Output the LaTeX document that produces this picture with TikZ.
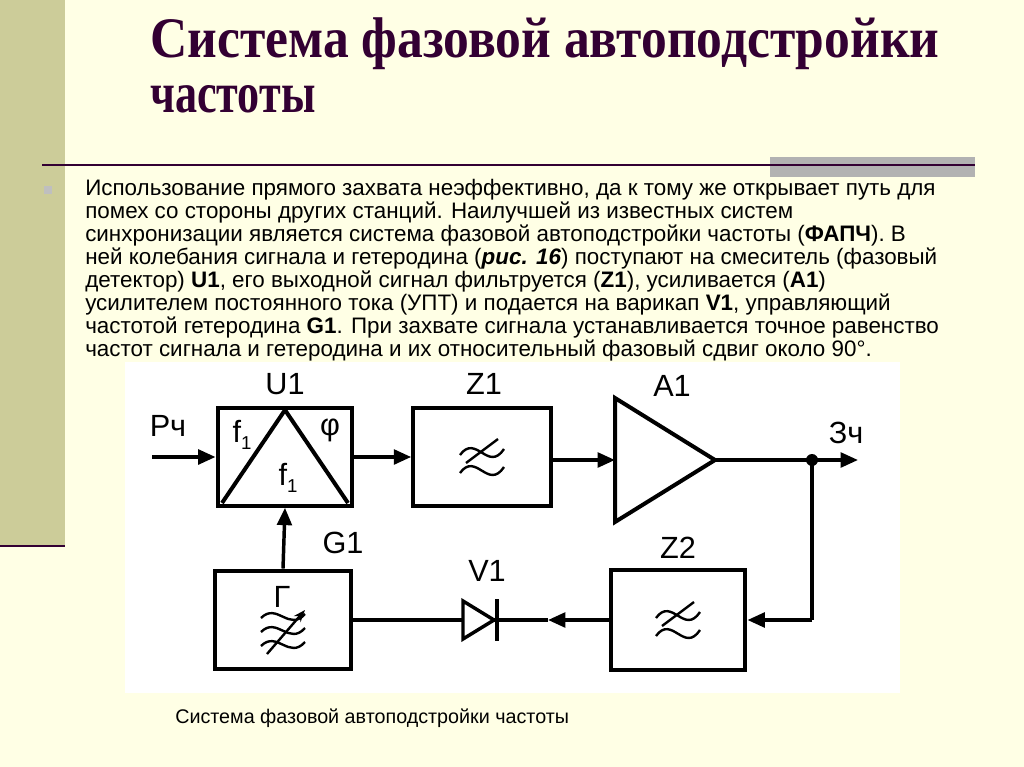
\documentclass[tikz,border=0pt]{standalone}
\usepackage{fontspec}
\usepackage{graphicx}
\setmainfont{Liberation Sans}
\newfontfamily\titlefont{Liberation Serif}
\usetikzlibrary{arrows.meta}
\definecolor{bgc}{RGB}{255,255,229}
\definecolor{barc}{RGB}{204,204,153}
\definecolor{ttl}{RGB}{51,0,51}
\tikzset{
 blk/.style={draw,line width=3.2pt,inner sep=0pt},
 wire/.style={line width=2.6pt},
 arr/.style={wire,-{Triangle[length=13pt,width=11pt]}},
 lbl/.style={font=\fontsize{23pt}{23pt}\selectfont},
 sym/.style={line width=1.8pt},
 txt/.style={anchor=west,inner sep=0pt,font=\fontsize{16.8pt}{18pt}\selectfont},
}
\newcommand\fsub{f\raisebox{-5pt}{\fontsize{14pt}{14pt}\selectfont 1}}
\begin{document}
\begin{tikzpicture}[x=0.75pt,y=-0.75pt]
\useasboundingbox (0,0) rectangle (1024,767);
\fill[bgc] (0,0) rectangle (1024,767);
\fill[barc] (0,0) rectangle (65,545);
\draw[ttl,line width=2pt] (0,546) -- (65,546);
\fill[black!30] (770,157) rectangle (975,177);
\draw[ttl,line width=2pt] (42,165) -- (975,165);
% title
\node[anchor=base west,inner sep=0pt,text=ttl] (t1) at (150,57) {\resizebox{592pt}{\height}{\titlefont\bfseries\fontsize{43pt}{43pt}\selectfont Система фазовой автоподстройки}};
\node[anchor=base west,inner sep=0pt,text=ttl] (t2) at (150,113) {\resizebox{124pt}{\height}{\titlefont\bfseries\fontsize{43pt}{43pt}\selectfont частоты}};
% paragraph
\fill[black!25] (44,186) rectangle (52,194);
\node[txt] (p1) at (85,190) {Использование прямого захвата неэффективно, да к тому же открывает путь для};
\node[txt] (p2) at (85,213) {помех со стороны других станций. Наилучшей из известных систем};
\node[txt] (p3) at (85,236) {синхронизации является система фазовой автоподстройки частоты (\textbf{ФАПЧ}). В};
\node[txt] (p4) at (85,259) {ней колебания сигнала и гетеродина (\textbf{\itshape рис. 16}) поступают на смеситель (фазовый};
\node[txt] (p5) at (85,282) {детектор) \textbf{U1}, его выходной сигнал фильтруется (\textbf{Z1}), усиливается (\textbf{A1})};
\node[txt] (p6) at (85,305) {усилителем постоянного тока (УПТ) и подается на варикап \textbf{V1}, управляющий};
\node[txt] (p7) at (85,328) {частотой гетеродина \textbf{G1}. При захвате сигнала устанавливается точное равенство};
\node[txt] (p8) at (85,351) {частот сигнала и гетеродина и их относительный фазовый сдвиг около 90°.};
% diagram area
\fill[white] (125,362) rectangle (900,693);
\node[anchor=west,inner sep=0pt,font=\fontsize{14.8pt}{15pt}\selectfont] (cap) at (175,718) {Система фазовой автоподстройки частоты};
% blocks
\node[blk,minimum width=101pt,minimum height=73pt] (U1) at (285,457) {};
\node[blk,minimum width=103pt,minimum height=73pt] (Z1) at (482,457) {};
\node[blk,minimum width=101pt,minimum height=75pt] (Z2) at (678,620) {};
\node[blk,minimum width=102pt,minimum height=74pt] (G1) at (283,620) {};
\draw[line width=3pt,line join=miter] (222,503) -- (285,410) -- (348,503);
\node[lbl] (f1a) at (242,435) {\fsub};
\node[lbl] (f1b) at (288,478) {\fsub};
\node[lbl] (phi) at (330,430) {φ};
% amplifier
\draw[line width=3pt,line join=miter] (615,398) -- (715,460) -- (615,522) -- cycle;
\coordinate (Ain) at (615,460);
\coordinate (Aout) at (715,460);
% labels
\node[lbl] (lU1) at (285,384) {U1};
\node[lbl] (lZ1) at (484,384) {Z1};
\node[lbl] (lA1) at (672,386) {A1};
\node[lbl] (lZ2) at (678,548) {Z2};
\node[lbl] (lG1) at (343,543) {G1};
\node[lbl] (lV1) at (487,571) {V1};
\node[lbl] (lin) at (168,426) {Рч};
\node[lbl] (lout) at (846,433) {Зч};
% filter symbols
\foreach \c in {Z1,Z2}{
 \draw[sym] ([shift={(-22,-2)}]\c.center) .. controls ([shift={(-6,-24)}]\c.center) and ([shift={(6,16)}]\c.center) .. ([shift={(22,-8)}]\c.center);
 \draw[sym] ([shift={(-22,16)}]\c.center) .. controls ([shift={(-6,-6)}]\c.center) and ([shift={(6,34)}]\c.center) .. ([shift={(22,10)}]\c.center);
 \draw[sym] ([shift={(16,-18)}]\c.center) -- ([shift={(-16,6)}]\c.center);
}
% generator symbol
\node[lbl] (gam) at (282,597) {Г};
\foreach \dy in {0,14,28}{
 \draw[sym] ([shift={(-22,\dy-2)}]G1.center) .. controls ([shift={(-6,\dy-18)}]G1.center) and ([shift={(6,\dy+12)}]G1.center) .. ([shift={(22,\dy-6)}]G1.center);}
\draw[sym,-{Stealth[length=9pt]}] ([shift={(-16,34)}]G1.center) -- ([shift={(22,-10)}]G1.center);
% connectors
\coordinate (inS) at (152,457);
\draw[arr] (inS) -- (U1.west);
\draw[arr] (U1.east) -- (Z1.west);
\draw[arr] (Z1.east |- Ain) -- (Ain);
\coordinate (dot) at (812,460);
\coordinate (outE) at (858,460);
\draw[wire] (Aout) -- (dot);
\draw[arr] (dot) -- (outE);
\fill (dot) circle (6);
\coordinate (fb) at (812,620);
\draw[wire] (dot) -- (fb);
\draw[arr] (fb) -- (Z2.east);
% diode
\coordinate (dA) at (463,620);
\coordinate (dK) at (494,620);
\coordinate (tip) at (548,620);
\draw[line width=2.6pt,line join=miter] (463,601) -- (494,620) -- (463,639) -- cycle;
\draw[line width=3pt] (497,599) -- (497,641);
\draw[arr] (Z2.west) -- (tip);
\draw[wire] (tip) -- (dK);
\draw[wire] (dA) -- (G1.east);
\draw[arr] (G1.north) -- (U1.south);
\end{tikzpicture}
\end{document}
